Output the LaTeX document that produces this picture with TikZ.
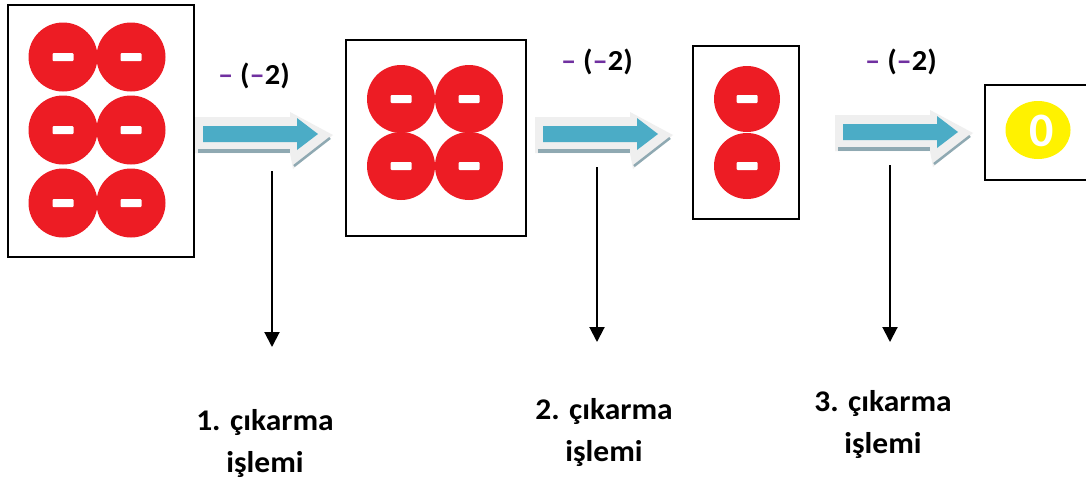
\documentclass[tikz,border=0pt]{standalone}
\usepackage{fontspec}
\setmainfont{Carlito}
\newfontfamily\labelfont[FakeStretch=1.05]{Carlito}
\usetikzlibrary{arrows.meta,shapes.geometric}

\definecolor{chipred}{HTML}{ED1C24}
\definecolor{chipyellow}{HTML}{FFF200}
\definecolor{oppurple}{HTML}{7030A0}
\definecolor{arrowblue}{HTML}{4BACC6}
\definecolor{arrowlight}{HTML}{EFEFEF}
\definecolor{arrowshade}{HTML}{8FA9B2}

\tikzset{
  frame/.style={draw=black, line width=1.3pt, fill=white, inner sep=0pt},
  negchip/.style={circle, fill=chipred, inner sep=0pt, minimum size=69pt,
    path picture={\fill[white, rounded corners=1pt]
      ([xshift=-10.5pt,yshift=-4pt]path picture bounding box.center) rectangle
      ([xshift=10.5pt,yshift=4pt]path picture bounding box.center);}},
  zerochip/.style={ellipse, fill=chipyellow, inner sep=0pt, minimum width=65pt,
    minimum height=58pt},
  oplabel/.style={font=\labelfont\fontsize{29}{29}\selectfont\bfseries, inner sep=0pt},
  resultlabel/.style={font=\labelfont\fontsize{30}{42}\selectfont\bfseries, align=center, inner sep=0pt},
  drop/.style={line width=2pt, -{Triangle[length=15pt,width=15pt]}}
}

% Word-style block arrow with a light extrusion and a shaded lower edge
\newcommand\subarrow[2]{%
  \begin{scope}[shift={(#1,#2)}]
    \fill[arrowlight] (0,0) -- (95,0) -- (95,-5) -- (138,18) -- (98,52) -- (95,36) -- (0,36) -- cycle;
    \fill[arrowshade] (3,32) rectangle (95,36);
    \draw[arrowshade, line width=2.5pt] (99,49) -- (135,21);
    \fill[arrowblue] (8,9) -- (102,9) -- (102,1) -- (123,17) -- (102,33) -- (102,25) -- (8,25) -- cycle;
  \end{scope}}

\newcommand\opminus{\textcolor{oppurple}{–}}

\begin{document}
\begin{tikzpicture}[x=1pt, y=-1pt]
\useasboundingbox (0,0) rectangle (1086,480);
\fill[white] (0,0) rectangle (1086,480);

% starting amount: six negative chips
\node[frame, minimum width=186pt, minimum height=252pt] (box1) at (101,131) {};
\node[negchip] (a1) at (63,57) {};
\node[negchip] (a2) at (131,57) {};
\node[negchip] (a3) at (63,130) {};
\node[negchip] (a4) at (131,130) {};
\node[negchip] (a5) at (63,203) {};
\node[negchip] (a6) at (131,203) {};

% after the first subtraction
\node[frame, minimum width=180pt, minimum height=196pt] (box2) at (436,138) {};
\node[negchip, minimum size=68pt] (b1) at (401,99) {};
\node[negchip, minimum size=68pt] (b2) at (469,99) {};
\node[negchip, minimum size=68pt] (b3) at (401,166) {};
\node[negchip, minimum size=68pt] (b4) at (469,166) {};

% after the second subtraction
\node[frame, minimum width=106pt, minimum height=173pt] (box3) at (746,132.5) {};
\node[negchip, minimum size=66pt] (c1) at (747,99) {};
\node[negchip, minimum size=66pt] (c2) at (747,166) {};

% result: the frame runs on past the right edge
\node[frame, minimum width=140pt, minimum height=95pt] (box4) at (1055,132.5) {};
\node[zerochip] (z) at (1038,130) {};
\node[text=white, font=\fontsize{48}{48}\selectfont\bfseries, inner sep=0pt] (zt) at (1042,131) {0};

% operation labels
\node[oplabel] (op1) at (254,76) {\opminus\ (\opminus2)};
\node[oplabel] (op2) at (597,62) {\opminus\ (\opminus2)};
\node[oplabel] (op3) at (901,62) {\opminus\ (\opminus2)};

% block arrows between the stages
\subarrow{195}{117}
\subarrow{535}{117}
\subarrow{835}{115}

% pointers to the step captions
\coordinate (p1s) at (272,171);
\coordinate (p1e) at (272,347);
\coordinate (p2s) at (597,167);
\coordinate (p2e) at (597,342);
\coordinate (p3s) at (890,165);
\coordinate (p3e) at (890,342);
\draw[drop] (p1s) -- (p1e);
\draw[drop] (p2s) -- (p2e);
\draw[drop] (p3s) -- (p3e);

% step captions
\node[resultlabel] (r1) at (265,443) {1. çıkarma\\işlemi};
\node[resultlabel] (r2) at (604,432) {2. çıkarma\\işlemi};
\node[resultlabel] (r3) at (883,424) {3. çıkarma\\işlemi};
\end{tikzpicture}
\end{document}
